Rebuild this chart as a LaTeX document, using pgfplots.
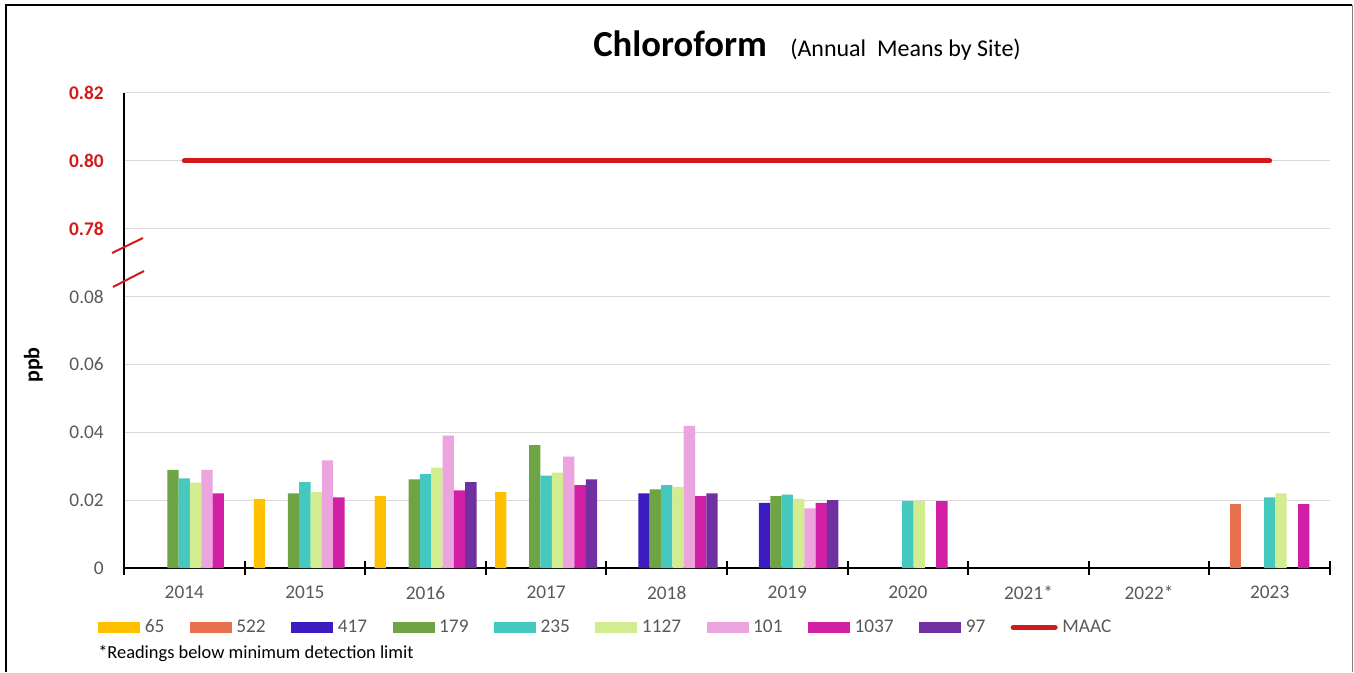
\documentclass[border=0pt]{standalone}
\usepackage{fontspec}
\setmainfont{Carlito}
\usepackage{pgfplots}
\pgfplotsset{compat=1.18}
\definecolor{c65}{HTML}{FFC000}
\definecolor{c522}{HTML}{E5704B}
\definecolor{c417}{HTML}{3C1CC0}
\definecolor{c179}{HTML}{6EA444}
\definecolor{c235}{HTML}{45C9BE}
\definecolor{c1127}{HTML}{D2EC90}
\definecolor{c101}{HTML}{EBA4DE}
\definecolor{c1037}{HTML}{D11FA6}
\definecolor{c97}{HTML}{7030A0}
\definecolor{maac}{HTML}{D41919}
\definecolor{gridgray}{HTML}{D9D9D9}
\definecolor{labelgray}{HTML}{595959}
\pgfplotsset{
 barleg/.style={legend image code/.code={\fill[##1] (0pt,-4pt) rectangle (31.5pt,4pt);}},
 lineleg/.style={legend image code/.code={\draw[##1] (0pt,0pt) -- (31.5pt,0pt);}},
}
\begin{document}
\begin{tikzpicture}
\useasboundingbox (0,0) rectangle (1015.5pt,504pt);
\fill[white] (0,0) rectangle (1015.5pt,504pt);
\begin{axis}[
 at={(93pt,78pt)}, anchor=south west,
 scale only axis, width=904.5pt, height=356.25pt,
 xmin=-0.5, xmax=9.5, ymin=0, ymax=0.14,
 axis x line*=bottom, axis y line*=left,
 axis line style={black, line width=1.5pt},
 xtick={0,1,2,3,4,5,6,7,8,9},
 xticklabels={2014,2015,2016,2017,2018,2019,2020,2021*,2022*,2023},
 minor xtick={-0.5,0.5,1.5,2.5,3.5,4.5,5.5,6.5,7.5,8.5,9.5},
 major tick length=0pt, minor tick length=10.5pt, tick align=center,
 minor tick style={black, line width=1.5pt},
 ytick={0,0.02,0.04,0.06,0.08,0.10,0.12,0.14},
 yticklabels={0,0.02,0.04,0.06,0.08,{\color{maac}\bfseries 0.78},{\color{maac}\bfseries 0.80},{\color{maac}\bfseries 0.82}},
 ymajorgrids, grid style={gridgray, line width=0.75pt},
 tick label style={font=\fontsize{14.5pt}{17pt}\selectfont, text=labelgray},
 xticklabel style={inner sep=0pt, anchor=north, yshift=-13.5pt},
 yticklabel style={inner sep=0pt, anchor=east, xshift=-15pt},
 legend columns=10,
 legend style={at={(rel axis cs:-0.025,-0.125)}, anchor=west, draw=none, fill=none,
   font=\fontsize{14.5pt}{17pt}\selectfont, text=labelgray,
   nodes={inner sep=0pt},
   /tikz/every odd column/.append style={column sep=3.5pt},
   /tikz/every even column/.append style={column sep=19pt}},
 legend cell align=left,
]
\addplot[ybar, bar width=8.5pt, bar shift=-34pt, barleg, fill=c65, draw=none] coordinates {(1,0.0204) (2,0.0212) (3,0.0224)};
\addlegendentry{65}
\addplot[ybar, bar width=8.5pt, bar shift=-25.5pt, barleg, fill=c522, draw=none] coordinates {(9,0.0188)};
\addlegendentry{522}
\addplot[ybar, bar width=8.5pt, bar shift=-17pt, barleg, fill=c417, draw=none] coordinates {(4,0.0220) (5,0.0192)};
\addlegendentry{417}
\addplot[ybar, bar width=8.5pt, bar shift=-8.5pt, barleg, fill=c179, draw=none] coordinates {(0,0.0289) (1,0.0220) (2,0.0261) (3,0.0362) (4,0.0232) (5,0.0212)};
\addlegendentry{179}
\addplot[ybar, bar width=8.5pt, bar shift=0pt, barleg, fill=c235, draw=none] coordinates {(0,0.0264) (1,0.0253) (2,0.0277) (3,0.0272) (4,0.0244) (5,0.0216) (6,0.0197) (9,0.0208)};
\addlegendentry{235}
\addplot[ybar, bar width=8.5pt, bar shift=8.5pt, barleg, fill=c1127, draw=none] coordinates {(0,0.0252) (1,0.0224) (2,0.0296) (3,0.0281) (4,0.0239) (5,0.0204) (6,0.0197) (9,0.0220)};
\addlegendentry{1127}
\addplot[ybar, bar width=8.5pt, bar shift=17pt, barleg, fill=c101, draw=none] coordinates {(0,0.0289) (1,0.0317) (2,0.0390) (3,0.0328) (4,0.0419) (5,0.0176)};
\addlegendentry{101}
\addplot[ybar, bar width=8.5pt, bar shift=25.5pt, barleg, fill=c1037, draw=none] coordinates {(0,0.0220) (1,0.0208) (2,0.0229) (3,0.0244) (4,0.0212) (5,0.0192) (6,0.0197) (9,0.0188)};
\addlegendentry{1037}
\addplot[ybar, bar width=8.5pt, bar shift=34pt, barleg, fill=c97, draw=none] coordinates {(2,0.0253) (3,0.0261) (4,0.0220) (5,0.0200)};
\addlegendentry{97}
\addplot[lineleg, sharp plot, draw=maac, line width=3.75pt, line cap=round, mark=none] coordinates {(0,0.12) (9,0.12)};
\addlegendentry{MAAC}
\end{axis}
% axis break marks
\draw[maac, line width=1.5pt] (84pt,314.25pt) -- (107.25pt,325.5pt);
\draw[maac, line width=1.5pt] (84.75pt,288.75pt) -- (108pt,300.75pt);
% titles
\node[anchor=base west, inner sep=0pt, font=\fontsize{27.5pt}{30pt}\selectfont\bfseries] at (444.75pt,461.25pt) {Chloroform};
\node[anchor=base west, inner sep=0pt, font=\fontsize{18pt}{20pt}\selectfont] at (592.5pt,461.25pt) {(Annual\ \ Means by Site)};
\node[rotate=90, inner sep=0pt, font=\fontsize{16.5pt}{19pt}\selectfont\bfseries] at (25pt,230.25pt) {ppb};
\node[anchor=base west, inner sep=0pt, font=\fontsize{13.8pt}{16pt}\selectfont] at (73.5pt,10pt) {*Readings below minimum detection limit};
% frame
\draw[black, line width=1.5pt] (4.5pt,0pt) -- (4.5pt,500.25pt) -- (1014pt,500.25pt);
\draw[gray, line width=0.75pt] (1014pt,500.25pt) -- (1014pt,0pt);
\end{tikzpicture}
\end{document}
